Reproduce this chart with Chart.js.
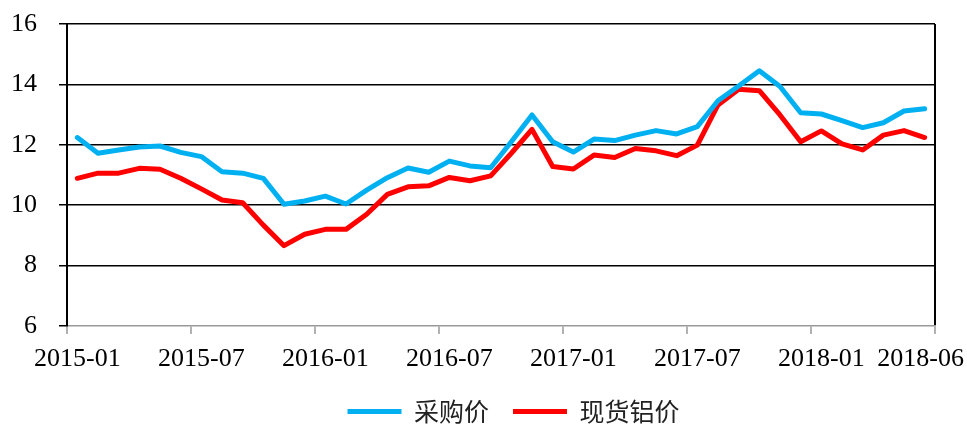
<!DOCTYPE html>
<html>
<head>
<meta charset="utf-8">
<script src="https://cdn.jsdelivr.net/npm/chart.js@4/dist/chart.umd.min.js"></script>
<style>
  html, body { margin: 0; padding: 0; background: #fff; }
  #wrap { width: 967px; height: 424px; }
</style>
</head>
<body>
<div id="wrap"><canvas id="c" width="967" height="424"></canvas></div>
<script>
const categories = [
  '2015-01','2015-02','2015-03','2015-04','2015-05','2015-06','2015-07','2015-08','2015-09','2015-10','2015-11','2015-12',
  '2016-01','2016-02','2016-03','2016-04','2016-05','2016-06','2016-07','2016-08','2016-09','2016-10','2016-11','2016-12',
  '2017-01','2017-02','2017-03','2017-04','2017-05','2017-06','2017-07','2017-08','2017-09','2017-10','2017-11','2017-12',
  '2018-01','2018-02','2018-03','2018-04','2018-05','2018-06'
];
const tickLabels = ['2015-01','2015-07','2016-01','2016-07','2017-01','2017-07','2018-01','2018-06'];
const purchasePrice = [
  12.24, 11.72, 11.83, 11.93, 11.96, 11.75, 11.61, 11.11, 11.06, 10.89,
  10.03, 10.14, 10.30, 10.04, 10.50, 10.91, 11.23, 11.09, 11.46, 11.30,
  11.24, 12.10, 12.99, 12.10, 11.76, 12.19, 12.14, 12.32, 12.47, 12.36,
  12.60, 13.46, 13.95, 14.45, 13.93, 13.06, 13.02, 12.80, 12.57, 12.73,
  13.12, 13.19
];
const spotAluminumPrice = [
  10.89, 11.06, 11.06, 11.22, 11.19, 10.89, 10.54, 10.17, 10.08, 9.34,
  8.66, 9.04, 9.20, 9.20, 9.70, 10.36, 10.61, 10.64, 10.92, 10.81,
  10.97, 11.72, 12.51, 11.28, 11.20, 11.66, 11.58, 11.88, 11.80, 11.64,
  11.99, 13.32, 13.84, 13.79, 12.99, 12.10, 12.46, 12.03, 11.83, 12.32,
  12.47, 12.24
];
const seriesNames = ['采购价', '现货铝价'];
const yTicks = { min: 6, max: 16, step: 2 };

const TRANSPARENT = 'rgba(0,0,0,0)';
const AXIS_FONT = { family: '"Liberation Serif", "Times New Roman", serif', size: 26 };

const adjust = {
  id: 'adjust',
  afterLayout(chart) {
    const lg = chart.legend;
    if (lg) { lg.left += 40; lg.right += 40; lg.top += 1; lg.bottom += 1; }
  },
  beforeDraw(chart) {
    const s = chart.scales.x;
    const items = s.getLabelItems();
    const last = tickLabels[tickLabels.length - 1];
    const it = items.find(i => i.label === last);
    if (it) {
      it.options.textAlign = 'right';
      it.options.translation[0] = chart.width - 3;
    }
  }
};

new Chart(document.getElementById('c'), {
  type: 'line',
  data: {
    labels: categories,
    datasets: [
      {
        label: seriesNames[0],
        data: purchasePrice,
        borderColor: '#00B0F0',
        backgroundColor: '#00B0F0',
        borderWidth: 5,
        pointRadius: 0,
        pointHoverRadius: 0,
        pointStyle: 'line',
        borderJoinStyle: 'round',
        borderCapStyle: 'round',
        tension: 0,
        fill: false
      },
      {
        label: seriesNames[1],
        data: spotAluminumPrice,
        borderColor: '#FF0000',
        backgroundColor: '#FF0000',
        borderWidth: 5,
        pointRadius: 0,
        pointHoverRadius: 0,
        pointStyle: 'line',
        borderJoinStyle: 'round',
        borderCapStyle: 'round',
        tension: 0,
        fill: false
      }
    ]
  },
  options: {
    responsive: false,
    animation: false,
    layout: { padding: { left: 12, right: 32, top: 24, bottom: 0 } },
    plugins: {
      tooltip: { enabled: false },
      legend: {
        position: 'bottom',
        maxHeight: 50,
        labels: {
          usePointStyle: true,
          pointStyleWidth: 54,
          boxHeight: 25,
          padding: 24,
          color: '#222',
          font: { family: '"Noto Sans CJK SC", "Noto Sans", sans-serif', size: 25 }
        }
      }
    },
    scales: {
      x: {
        type: 'category',
        offset: true,
        grid: {
          offset: true,
          drawOnChartArea: true,
          drawTicks: true,
          tickLength: 8,
          lineWidth: 2,
          tickWidth: 1.5,
          color: (c) => (c.index === undefined ? '#000' : TRANSPARENT),
          tickColor: (c) => (c.index === undefined || c.index % 6 === 0 ? '#999' : TRANSPARENT)
        },
        border: { display: true, color: '#999', width: 1.5 },
        ticks: {
          autoSkip: false,
          maxRotation: 0,
          minRotation: 0,
          padding: 10,
          color: '#000',
          font: AXIS_FONT,
          callback: function (value, index) {
            const lab = categories[index];
            return tickLabels.includes(lab) ? lab : '';
          }
        },
        afterFit: (scale) => { scale.paddingLeft = 0; scale.paddingRight = 0; scale.height = 48; }
      },
      y: {
        min: yTicks.min,
        max: yTicks.max,
        grid: {
          drawTicks: true,
          tickLength: 8,
          lineWidth: 1.5,
          color: (c) => (c.tick && c.tick.value === yTicks.min ? TRANSPARENT : '#000'),
          tickColor: '#000'
        },
        border: { display: true, color: '#000', width: 2 },
        ticks: {
          stepSize: yTicks.step,
          padding: 22,
          color: '#000',
          font: AXIS_FONT
        },
        afterFit: (scale) => { scale.paddingTop = 0; scale.paddingBottom = 0; scale.width = 55; }
      }
    }
  },
  plugins: [adjust]
});
</script>
</body>
</html>
